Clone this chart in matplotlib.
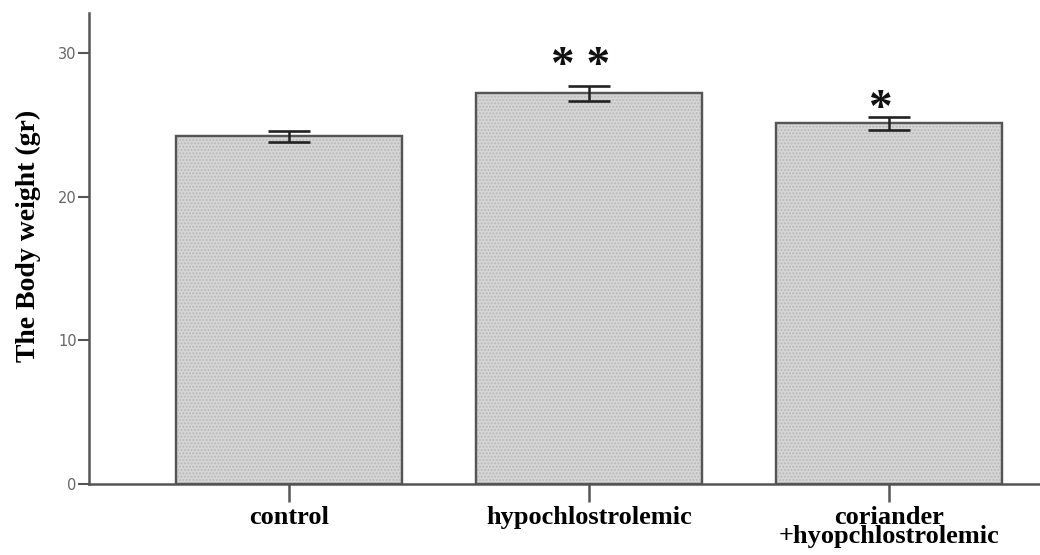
#!/usr/bin/env python3

import matplotlib
import matplotlib.pyplot as plt
import numpy as np

matplotlib.use('Agg')

groups = ['control', 'hypochlostrolemic', 'coriander\n+hyopchlostrolemic']
weight = [24.2, 27.2, 25.1]
sem = [0.4, 0.52, 0.44]
stars = ['', '* *', '*']
star_y = [0, 29.0, 26.05]
yticks = [0, 10, 20, 30]

x = np.arange(len(groups))

fig = plt.figure(figsize=(10.4, 5.55), dpi=100)
ax = fig.add_axes([0.0859, 0.128, 0.9141, 0.849])

ax.bar(x, weight, width=0.753, color='#d6d6d6', edgecolor='#555555', linewidth=1.6, zorder=2)
ax.bar(x, weight, width=0.753, fill=False, hatch='.....', edgecolor='#b8b8b8', linewidth=0, zorder=2)
ax.bar(x, weight, width=0.753, fill=False, edgecolor='#555555', linewidth=1.6, zorder=3)
ax.errorbar(x, weight, yerr=sem, fmt='none', ecolor='#222222', elinewidth=1.8,
            capsize=15, capthick=1.9, zorder=4)

for xi, sy, s in zip(x, star_y, stars):
    if s:
        ax.text(xi - 0.03, sy, s, ha='center', va='center', fontsize=34,
                fontweight='bold', family='Liberation Serif', color='#111111')

ax.set_xlim(-0.666, 2.503)
ax.set_ylim(0, 32.8)
ax.set_xticks(x)
ax.set_xticklabels(groups, family='Liberation Serif', fontweight='bold', fontsize=19,
                   linespacing=0.78)
ax.set_yticks(yticks)
ax.set_yticklabels([str(t) for t in yticks], fontsize=10.5, color='#666666')

ax.spines['top'].set_visible(False)
ax.spines['right'].set_visible(False)
for side in ['left', 'bottom']:
    ax.spines[side].set_color('#555555')
    ax.spines[side].set_linewidth(1.8)

ax.tick_params(axis='y', direction='out', length=8, width=1.5, color='#555555', pad=1)
ax.tick_params(axis='x', direction='out', length=13, width=1.8, color='#555555', pad=3)

ax.set_ylabel('The Body weight (gr)', family='Liberation Serif', fontweight='bold',
              fontsize=20)
ax.yaxis.set_label_coords(-0.051, 0.526)

plt.savefig('out.png', dpi=100)
